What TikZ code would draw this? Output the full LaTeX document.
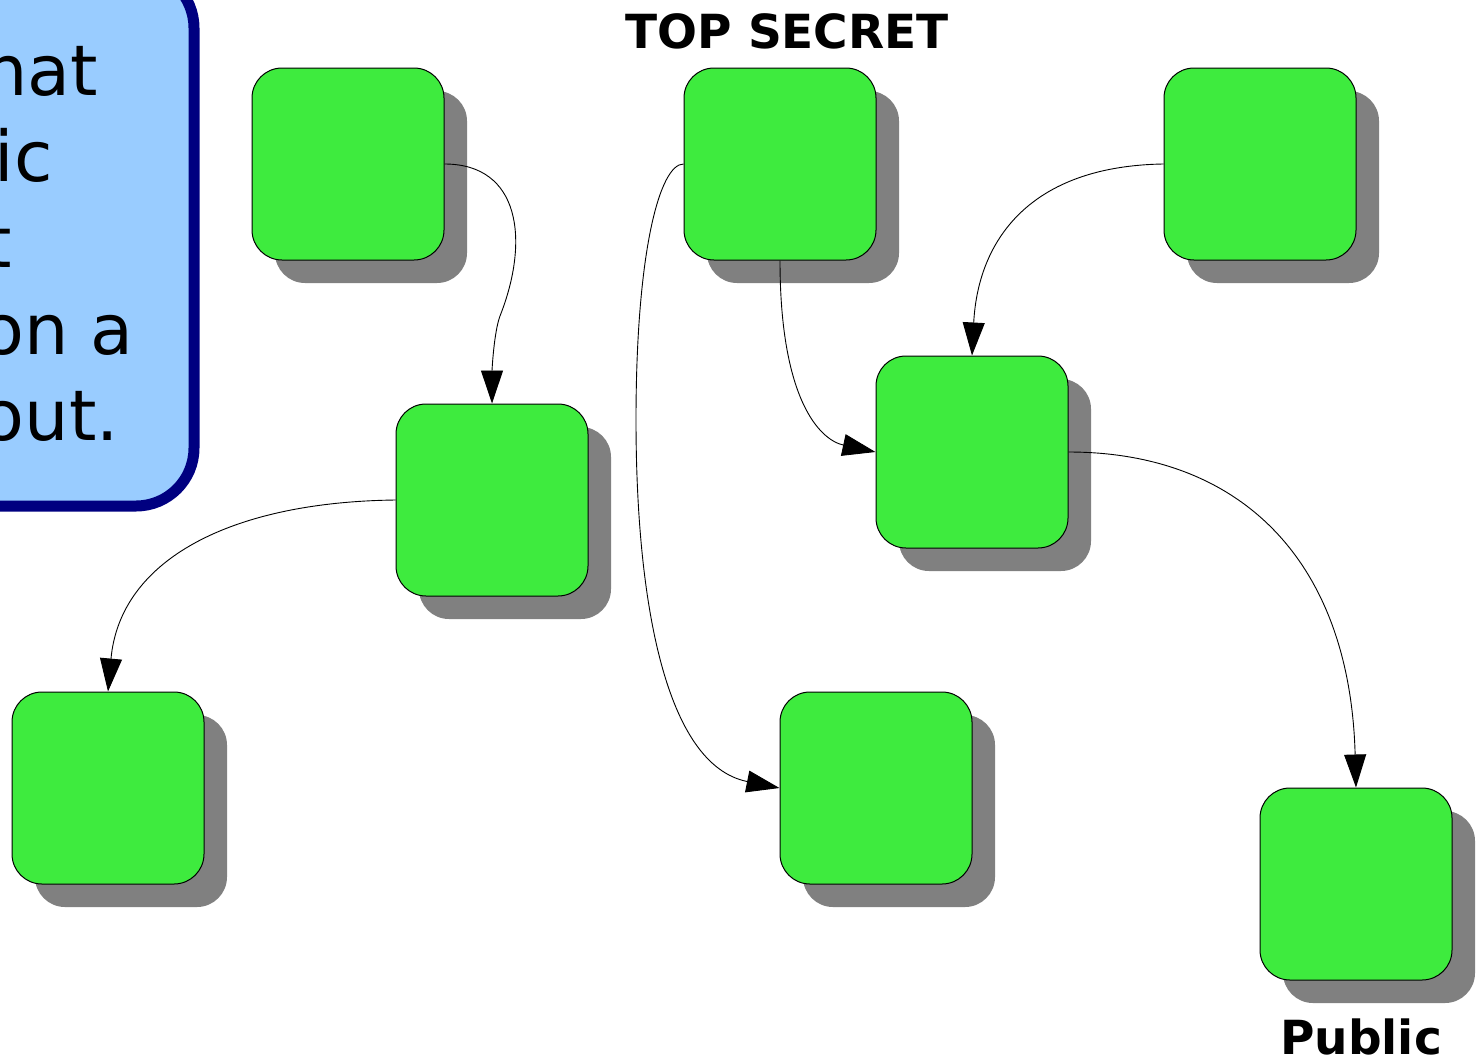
\documentclass[tikz,border=0pt]{standalone}
\usepackage{fontspec}
\setmainfont{DejaVu Sans}
\usetikzlibrary{arrows.meta,shadows}
\definecolor{boxgreen}{RGB}{62,235,62}
\definecolor{shadowgray}{RGB}{128,128,128}
\definecolor{notefill}{RGB}{153,204,255}
\definecolor{noteedge}{RGB}{0,0,128}
\begin{document}
\begin{tikzpicture}[x=1pt,y=-1pt,
  block/.style={draw=black, line width=1pt, fill=boxgreen, rounded corners=30pt,
    minimum width=192pt, minimum height=192pt, inner sep=0pt,
    drop shadow={shadow xshift=23pt, shadow yshift=-23pt, fill=shadowgray, opacity=1}},
  link/.style={line width=0.9pt, -{Triangle[length=33pt,width=22pt]}},
  notetext/.style={font=\fontsize{70}{84}\selectfont, anchor=base east, inner sep=0pt},
  tag/.style={font=\fontsize{47}{56}\selectfont\bfseries, anchor=base, inner sep=0pt}]
\useasboundingbox (0,0) rectangle (1477,1058);
\clip (0,0) rectangle (1477,1058);

% note box running off the left edge
\draw[line width=11pt, draw=noteedge, fill=notefill, rounded corners=58pt]
  (-160,-30) rectangle (194,506);
\node[notetext] (t1) at (98,95)    {hat};
\node[notetext] (t2) at (53,181)   {ic};
\node[notetext] (t3) at (12,267)   {t};
\node[notetext] (t4) at (134,354)  {on a};
\node[notetext] (t5) at (119,440)  {out.};

% labels
\node[tag] (top) at (787,48) {TOP SECRET};
\node[tag] (pub) at (1361,1054) {Public};

% blocks
\node[block] (A) at (348,164) {};
\node[block] (B) at (780,164) {};
\node[block] (C) at (1260,164) {};
\node[block] (D) at (492,500) {};
\node[block] (E) at (972,452) {};
\node[block] (F) at (108,788) {};
\node[block] (G) at (876,788) {};
\node[block] (H) at (1356,884) {};

% connectors
\coordinate (ad) at (500,316);
\coordinate (bg) at (636,420);
\draw[link] (A.east) .. controls (520,164) and (530,240) .. (ad)
                     .. controls (494,332) and (492,370) .. (D.north);
\draw[link] (B.west) .. controls (660,164) and (636,250) .. (bg)
                     .. controls (636,600) and (665,765) .. (G.west);
\draw[link] (B.south) .. controls (780,400) and (820,440) .. (E.west);
\draw[link] (C.west) .. controls (1030,166) and (978,240) .. (E.north);
\draw[link] (D.west) .. controls (230,502) and (120,560) .. (F.north);
\draw[link] (E.east) .. controls (1240,452) and (1350,560) .. (H.north);
\end{tikzpicture}
\end{document}
